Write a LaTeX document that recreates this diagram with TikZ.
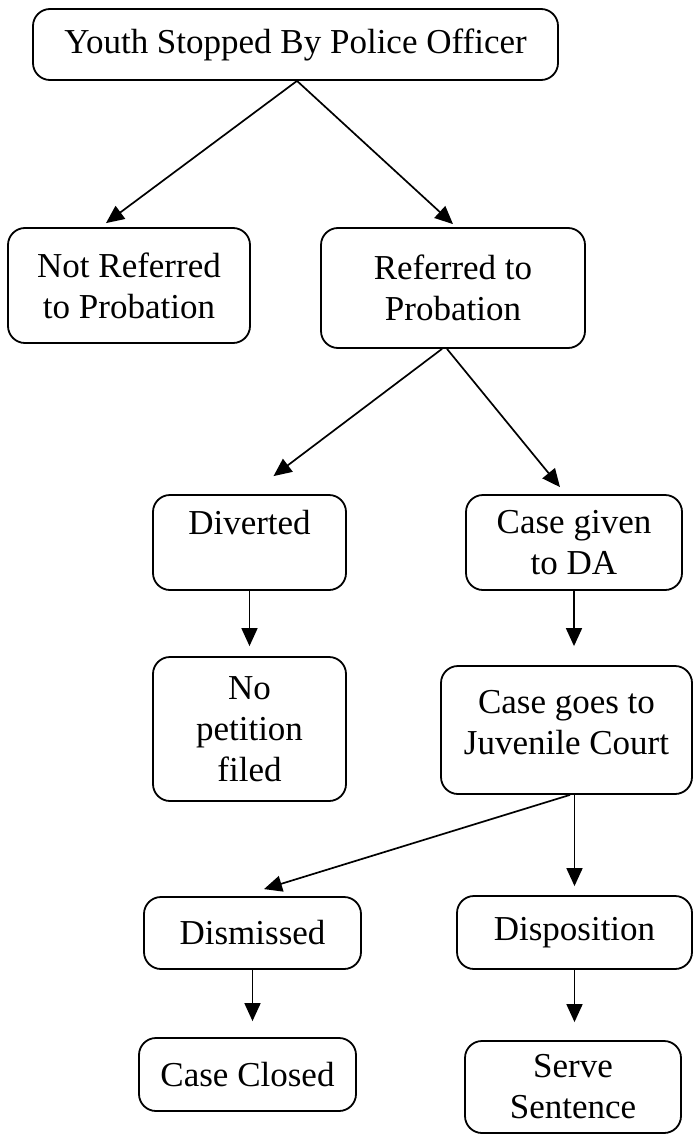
\documentclass[tikz,border=0pt]{standalone}
\usepackage{fontspec}
\setmainfont{Liberation Serif}
\usetikzlibrary{arrows.meta,calc}
\tikzset{
  box/.style={draw, rounded corners=17pt, line width=1.8pt, align=center, inner sep=0pt,
    font=\fontsize{35}{41}\selectfont},
  arr/.style={line width=1.7pt, -{Triangle[length=18pt,width=16pt]}}
}
\begin{document}
\begin{tikzpicture}[x=1pt,y=-1pt]
\useasboundingbox (0,0) rectangle (694,1135);
\node[box, minimum width=525pt, minimum height=71pt] (top) at (295.5,44.5) {Youth Stopped By Police Officer};
\node[box, minimum width=242pt, minimum height=115pt] (notref) at (129,285.5) {Not Referred\\to Probation};
\node[box, minimum width=264pt, minimum height=120pt] (ref) at (453,288) {Referred to\\Probation};
\node[box, minimum width=193pt, minimum height=95pt] (div) at (249.5,542.5) {Diverted\\\mbox{}};
\node[box, minimum width=216pt, minimum height=95pt] (cga) at (574,542.5) {Case given\\to DA};
\node[box, minimum width=193pt, minimum height=144pt] (nopet) at (249.5,729) {No\\petition\\filed};
\node[box, minimum width=251pt, minimum height=128pt] (juv) at (566.5,730) {Case goes to\\Juvenile Court\\[-25pt]\mbox{}};
\node[box, minimum width=217pt, minimum height=72pt] (dis) at (252.5,933) {Dismissed};
\node[box, minimum width=235pt, minimum height=73pt] (dispo) at (574.5,932.5) {Disposition};
\node[box, minimum width=217pt, minimum height=73pt] (cc) at (247.5,1074.5) {Case Closed};
\node[box, minimum width=216pt, minimum height=92pt] (serve) at (573,1087) {Serve\\Sentence};

\draw[arr] ([xshift=1.5pt]top.south) -- ([xshift=-23pt,yshift=4pt]notref.north);
\draw[arr] ([xshift=1.5pt]top.south) -- ([yshift=3pt]ref.north);
\draw[arr] ([xshift=-11pt]ref.south) -- ([xshift=24pt,yshift=18pt]div.north);
\draw[arr] ([xshift=-6pt]ref.south) -- ([xshift=-14pt,yshift=7pt]cga.north);
\draw[arr] (div.south) -- ($(div.south |- nopet.north)+(0,-10)$);
\draw[arr] (cga.south) -- ($(cga.south |- juv.north)+(0,-19)$);
\draw[arr] ([xshift=3.5pt]juv.south) -- ([xshift=11.5pt,yshift=7pt]dis.north);
\draw[arr] ([xshift=8pt]juv.south) -- ($([xshift=8pt]juv.south |- dispo.north)+(0,-9)$);
\draw[arr] (dis.south) -- ($(dis.south |- cc.north)+(0,-16)$);
\draw[arr] (dispo.south) -- ($(dispo.south |- serve.north)+(0,-18)$);
\end{tikzpicture}
\end{document}
